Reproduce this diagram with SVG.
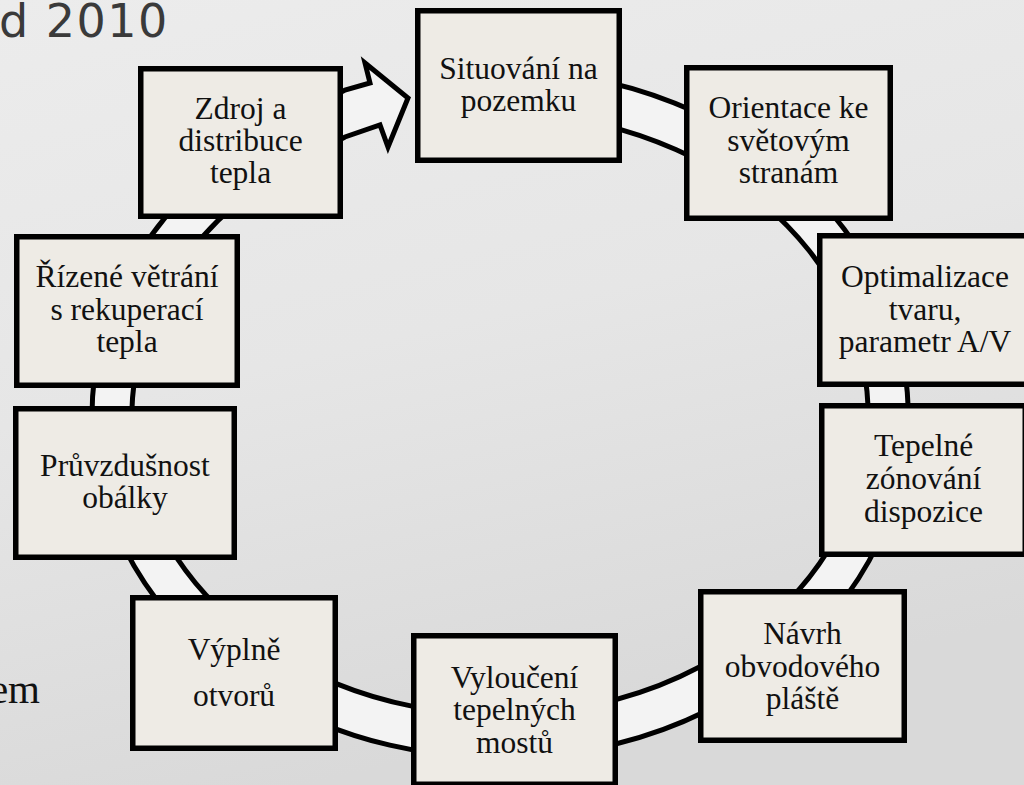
<svg xmlns="http://www.w3.org/2000/svg" width="1024" height="785" viewBox="0 0 1024 785">
  <defs>
    <linearGradient id="bg" x1="0" y1="0" x2="0.3" y2="1">
      <stop offset="0" stop-color="#ececec"/>
      <stop offset="0.5" stop-color="#e6e6e6"/>
      <stop offset="1" stop-color="#d9d9d9"/>
    </linearGradient>
    <style>
      .box { fill: #eeebe5; stroke: #000; stroke-width: 5.5; }
      .lbl { font-family: "Liberation Serif", "Times New Roman", serif; font-size: 31.5px; fill: #111; text-anchor: middle; }
      .ring { fill: #f3f3f3; stroke: #000; stroke-width: 5; stroke-linejoin: miter; }
    </style>
  </defs>
  <rect x="0" y="0" width="1024" height="785" fill="url(#bg)"/>
  <text x="-1" y="37" font-family="DejaVu Sans, Verdana, sans-serif" font-size="46" letter-spacing="1.5" fill="#3a3a3a">d 2010</text>
  <text x="40" y="703" font-family="Liberation Serif, serif" font-size="41" fill="#111" text-anchor="end">em</text>

  <g id="connectors">
    <path class="ring" d="M 520,113.4 L 520,70.4 A 408 344 0 1 1 300,114.2 L 345,90 L 370,83 L 365,63 L 408,98 L 388,147 L 380,125 L 345,137 L 300,161.3 A 368 301 0 1 0 520,113.4 Z"/>
  </g>

  <g id="n1"><rect class="box" x="417.75" y="10.75" width="201.5" height="149.5"/>
    <text class="lbl" x="518.5" y="79">Situování na</text><text class="lbl" x="518.5" y="111">pozemku</text></g>
  <g id="n2"><rect class="box" x="686.75" y="67.75" width="203.5" height="150.5"/>
    <text class="lbl" x="788.5" y="118">Orientace ke</text><text class="lbl" x="788.5" y="150.5">světovým</text><text class="lbl" x="788.5" y="183">stranám</text></g>
  <g id="n3"><rect class="box" x="819.75" y="235.75" width="210.5" height="148.5"/>
    <text class="lbl" x="925" y="287">Optimalizace</text><text class="lbl" x="925" y="319.5">tvaru,</text><text class="lbl" x="925" y="352">parametr A/V</text></g>
  <g id="n4"><rect class="box" x="821.75" y="405.75" width="203.5" height="148.5"/>
    <text class="lbl" x="923.5" y="456">Tepelné</text><text class="lbl" x="923.5" y="489">zónování</text><text class="lbl" x="923.5" y="522">dispozice</text></g>
  <g id="n5"><rect class="box" x="700.75" y="591.75" width="203.5" height="148.5"/>
    <text class="lbl" x="802.5" y="644">Návrh</text><text class="lbl" x="802.5" y="677">obvodového</text><text class="lbl" x="802.5" y="709">pláště</text></g>
  <g id="n6"><rect class="box" x="413.75" y="635.75" width="201.5" height="148.5"/>
    <text class="lbl" x="514.5" y="688">Vyloučení</text><text class="lbl" x="514.5" y="720">tepelných</text><text class="lbl" x="514.5" y="753">mostů</text></g>
  <g id="n7"><rect class="box" x="132.75" y="597.75" width="202.5" height="150.5"/>
    <text class="lbl" x="234" y="660">Výplně</text><text class="lbl" x="234" y="706">otvorů</text></g>
  <g id="n8"><rect class="box" x="15.75" y="408.75" width="218.5" height="148.5"/>
    <text class="lbl" x="125" y="476">Průvzdušnost</text><text class="lbl" x="125" y="508">obálky</text></g>
  <g id="n9"><rect class="box" x="16.75" y="236.75" width="220.5" height="148.5"/>
    <text class="lbl" x="127" y="287">Řízené větrání</text><text class="lbl" x="127" y="319.5">s rekuperací</text><text class="lbl" x="127" y="352">tepla</text></g>
  <g id="n10"><rect class="box" x="140.75" y="68.75" width="199.5" height="147.5"/>
    <text class="lbl" x="240.5" y="119">Zdroj a</text><text class="lbl" x="240.5" y="151">distribuce</text><text class="lbl" x="240.5" y="183">tepla</text></g>
</svg>
